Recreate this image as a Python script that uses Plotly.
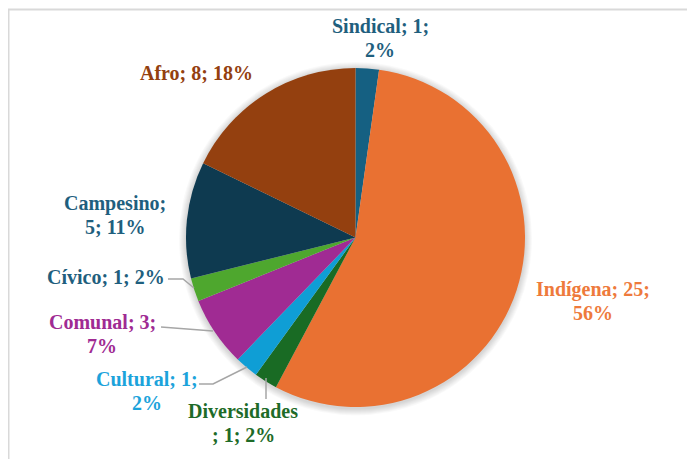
import plotly.graph_objects as go

# the page body adds an 8px offset; figure coordinates below are reference pixels minus OFF
OFF = 8
W, H = 695 - OFF, 459 - OFF

categories = ["Sindical", "Indígena", "Diversidades", "Cultural", "Comunal", "Cívico", "Campesino", "Afro"]
values = [1, 25, 1, 1, 3, 1, 5, 8]
slice_colors = ["#156082", "#E97132", "#196B24", "#0F9ED5", "#A02B93", "#4EA72E", "#0E3A50", "#94400F"]
label_colors = ["#1F5F7E", "#EE7A3C", "#1E6B28", "#1CA3DB", "#A02B93", "#1F5F7E", "#1F5F7E", "#94400F"]

# label layout (reference pixel centres) and line-break positions
label_pos = [(380, 38), (593, 301), (243, 423), (147, 391), (102, 334), (106, 277), (115, 215), (197, 73)]
break_at = [12, 13, 12, 12, 11, None, 10, None]
LINE_GAP = 24

# leader lines (reference pixel polylines)
leaders = {
    "Cívico": [(168, 279), (183, 279), (194, 288)],
    "Comunal": [(161, 327), (213, 331)],
    "Cultural": [(199, 384), (213, 384), (247, 367)],
    "Diversidades": [(266, 399), (266, 378)],
}

total = sum(values)
cx, cy, r = 355.5, 237.5, 169.5


def px(x):
    return (x - OFF) / W


def py(y):
    return 1 - (y - OFF) / H


fig = go.Figure()
fig.add_trace(go.Pie(
    labels=categories, values=values, sort=False, direction="clockwise", rotation=0,
    marker=dict(colors=slice_colors, line=dict(width=0)),
    textinfo="none", hoverinfo="label+value+percent", showlegend=False,
    domain=dict(x=[px(cx - r), px(cx + r)], y=[py(cy + r), py(cy - r)]),
))

FONT = "Liberation Serif, Times New Roman, DejaVu Serif, serif"
annotations = []
for c, v, col, (x, y), k in zip(categories, values, label_colors, label_pos, break_at):
    pct = round(v / total * 100)
    full = f"{c}; {v}; {pct}%"
    lines = [full] if k is None else [full[:k], full[k:].lstrip()]
    n = len(lines)
    for i, line in enumerate(lines):
        ly = y + (i - (n - 1) / 2) * LINE_GAP
        annotations.append(dict(
            x=px(x), y=py(ly), xref="paper", yref="paper", text=f"<b>{line}</b>", showarrow=False,
            xanchor="center", yanchor="middle", align="center",
            font=dict(family=FONT, size=20, color=col),
        ))

shapes = []
# soft shadow around the pie
for dr in [7, 6, 5, 4, 3, 2, 1]:
    shapes.append(dict(type="circle", xref="paper", yref="paper", layer="below",
                       x0=px(cx - r - dr), x1=px(cx + r + dr), y0=py(cy + r + dr + 1.5), y1=py(cy - r - dr + 1),
                       line=dict(width=0), fillcolor="rgba(0,0,0,0.022)"))
for name, pts in leaders.items():
    path = "M " + " L ".join(f"{px(x)},{py(y)}" for x, y in pts)
    shapes.append(dict(type="path", xref="paper", yref="paper", path=path,
                       line=dict(color="#A6A6A6", width=1.5)))
# chart border (top and left edges visible)
shapes.append(dict(type="rect", xref="paper", yref="paper",
                   x0=px(8.5), x1=px(695 + 10), y0=py(459 + 10), y1=py(9.5),
                   line=dict(color="#D9D9D9", width=2), fillcolor="rgba(0,0,0,0)"))

fig.update_layout(
    width=W, height=H, margin=dict(l=0, r=0, t=0, b=0),
    paper_bgcolor="white", plot_bgcolor="white",
    annotations=annotations, shapes=shapes,
    font=dict(family=FONT),
)

fig.write_html("out.html")
